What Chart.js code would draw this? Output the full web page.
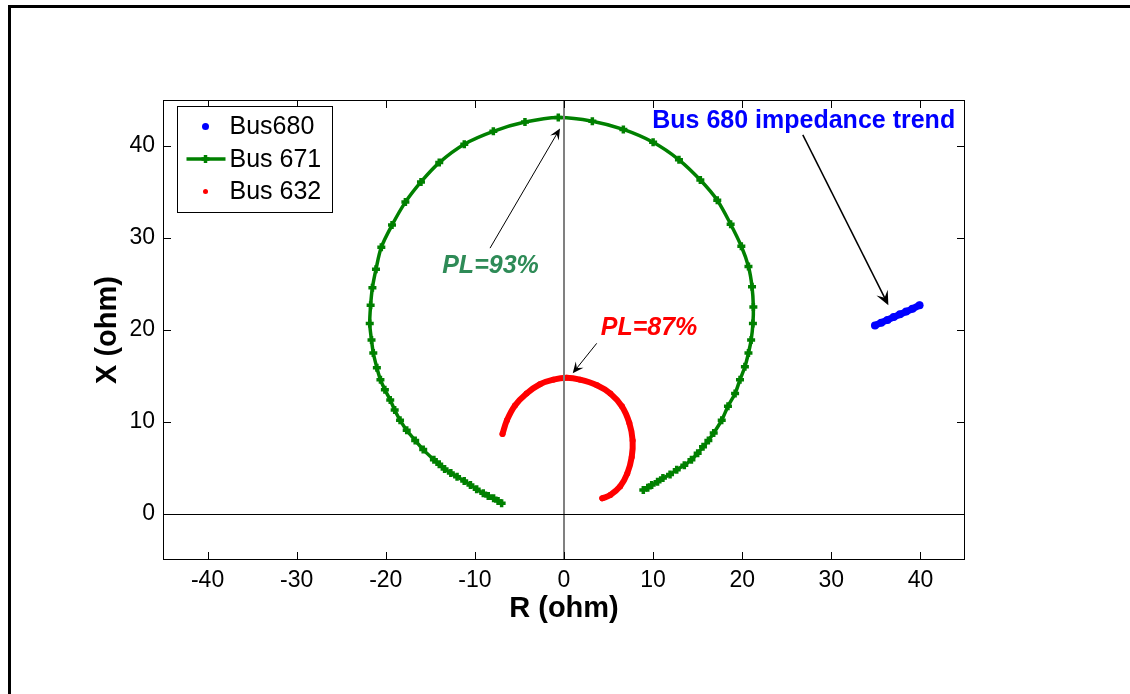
<!DOCTYPE html>
<html>
<head>
<meta charset="utf-8">
<script src="https://cdn.jsdelivr.net/npm/chart.js@4.4.1/dist/chart.umd.min.js"></script>
<style>
  html, body { margin: 0; padding: 0; background: #fff; }
  body { width: 1130px; height: 694px; overflow: hidden; position: relative; }
  #frame { position: absolute; left: 8px; top: 5px; width: 1140px; height: 700px;
           border-top: 3px solid #000; border-left: 3px solid #000; }
  #wrap { position: absolute; left: 0; top: 0; width: 1130px; height: 694px; }
</style>
</head>
<body>
<div id="frame"></div>
<div id="wrap"><canvas id="chart" width="1130" height="694"></canvas></div>
<script>
// Bus 680 - short trend
const bus680R = [34.9, 35.6, 36.3, 37.0, 37.7, 38.4, 39.1, 39.9];
const bus680X = [20.5, 20.8, 21.1, 21.4, 21.7, 22.0, 22.3, 22.7];

// Bus 671 - big arc, right end -> top -> left end (denser near the two ends)
const bus671R = [8.9, 9.4, 9.84, 10.5, 11.1, 11.9, 12.65, 13.5, 14.3, 15.0, 15.6, 16.2, 16.8, 17.7, 18.4, 19.2,
  19.75, 20.3, 20.7, 21.0, 21.2, 21.25, 21.1, 20.7, 19.9, 18.7, 17.2, 15.3, 12.9, 10.0, 6.66, 3.18,
  -0.64, -4.38, -7.93, -11.19, -14.0, -16.05, -17.8, -19.3, -20.5, -21.1, -21.5, -21.7, -21.8, -21.6,
  -21.4, -21.0, -20.6, -20.1, -19.5, -19.0, -18.4, -17.65, -16.7, -15.8, -14.6, -14.0, -13.4, -12.7,
  -12.0, -11.2, -10.5, -9.8, -9.06, -8.5, -7.9, -7.4, -7.0];
const bus671X = [2.6, 2.85, 3.15, 3.5, 3.9, 4.3, 4.8, 5.3, 5.9, 6.6, 7.3, 8.0, 8.8, 10.2, 11.7, 13.1,
  14.6, 16.0, 17.5, 18.9, 20.7, 22.5, 24.7, 26.9, 29.1, 31.5, 34.1, 36.3, 38.5, 40.4, 41.8, 42.7,
  43.1, 42.6, 41.6, 40.2, 38.2, 36.1, 33.9, 31.4, 29.0, 26.6, 24.6, 22.7, 20.7, 18.9,
  17.5, 15.9, 14.6, 13.5, 12.4, 11.3, 10.2, 9.1, 8.0, 7.0, 5.9, 5.4, 4.9, 4.45,
  4.05, 3.6, 3.15, 2.7, 2.25, 1.95, 1.7, 1.4, 1.16];

// Bus 632 - small arc, left end -> top -> right end
const bus632R = [-6.9, -6.4, -5.5, -4.2, -2.7, -1.2, 0.3, 1.8, 3.7, 5.2, 6.5, 7.33, 7.7, 7.6, 7.1, 6.3, 5.2, 4.3];
const bus632X = [8.7, 10.2, 11.8, 13.1, 14.1, 14.6, 14.8, 14.6, 14.0, 13.1, 11.7, 9.9, 8.0, 6.2, 4.4, 3.0, 2.07, 1.7];

const xTicks = [-40, -30, -20, -10, 0, 10, 20, 30, 40];
const yTicks = [0, 10, 20, 30, 40];

const FONT = "'Liberation Sans', Arial, sans-serif";

const pts = (rs, xs) => rs.map((r, i) => ({ x: r, y: xs[i] }));

// text + arrow annotations, in data units
const notes = [
  { text: 'Bus 680 impedance trend', color: '#0000ff', italic: false, at: [26.9, 41.96],
    from: [26.8, 41.2], to: [36.4, 22.7], head: 14, lw: 1.5 },
  { text: 'PL=93%', color: '#2e8b57', italic: true, at: [-8.25, 26.2],
    from: [-8.3, 28.9], to: [-0.45, 41.9], head: 11, lw: 1 },
  { text: 'PL=87%', color: '#ff0000', italic: true, at: [9.54, 19.5],
    from: [3.67, 18.55], to: [0.98, 15.3], head: 11, lw: 1 }
];

function seg(ctx, x1, y1, x2, y2) {
  ctx.beginPath();
  ctx.moveTo(x1, y1);
  ctx.lineTo(x2, y2);
  ctx.stroke();
}

const axesBox = {
  id: 'axesBox',
  afterDatasetsDraw(chart) {
    const { ctx, chartArea: a, scales: { x, y } } = chart;
    ctx.save();
    // zero lines
    ctx.strokeStyle = '#808080';
    ctx.lineWidth = 2;
    const x0 = Math.round(x.getPixelForValue(0));
    seg(ctx, x0, a.top, x0, a.bottom);
    ctx.strokeStyle = '#000';
    ctx.lineWidth = 1;
    const y0 = Math.round(y.getPixelForValue(0)) + 0.5;
    seg(ctx, a.left, y0, a.right, y0);
    // box
    ctx.strokeRect(Math.round(a.left) + 0.5, Math.round(a.top) + 0.5,
      Math.round(a.width) - 1, Math.round(a.height) - 1);
    // inward ticks on all four sides
    xTicks.forEach(v => {
      const px = Math.round(x.getPixelForValue(v)) + 0.5;
      seg(ctx, px, a.bottom, px, a.bottom - 8);
      seg(ctx, px, a.top, px, a.top + 8);
    });
    yTicks.forEach(v => {
      const py = Math.round(y.getPixelForValue(v)) + 0.5;
      seg(ctx, a.left, py, a.left + 8, py);
      seg(ctx, a.right, py, a.right - 8, py);
    });
    ctx.restore();
  }
};

const annotations = {
  id: 'annotations',
  afterDatasetsDraw(chart) {
    const { ctx, scales: { x, y } } = chart;
    ctx.save();
    notes.forEach(n => {
      const x1 = x.getPixelForValue(n.from[0]), y1 = y.getPixelForValue(n.from[1]);
      const x2 = x.getPixelForValue(n.to[0]), y2 = y.getPixelForValue(n.to[1]);
      const ang = Math.atan2(y2 - y1, x2 - x1);
      const L = n.head, W = n.head * 0.45;
      ctx.strokeStyle = '#000';
      ctx.fillStyle = '#000';
      ctx.lineWidth = n.lw;
      seg(ctx, x1, y1, x2 - Math.cos(ang) * L * 0.5, y2 - Math.sin(ang) * L * 0.5);
      // barbed head
      const bx = x2 - Math.cos(ang) * L, by = y2 - Math.sin(ang) * L;
      const nx = -Math.sin(ang), ny = Math.cos(ang);
      const mx = x2 - Math.cos(ang) * L * 0.6, my = y2 - Math.sin(ang) * L * 0.6;
      ctx.beginPath();
      ctx.moveTo(x2, y2);
      ctx.lineTo(bx + nx * W, by + ny * W);
      ctx.lineTo(mx, my);
      ctx.lineTo(bx - nx * W, by - ny * W);
      ctx.closePath();
      ctx.fill();

      ctx.font = (n.italic ? 'italic ' : '') + 'bold 25px ' + FONT;
      ctx.fillStyle = n.color;
      ctx.textAlign = 'center';
      ctx.textBaseline = 'alphabetic';
      ctx.fillText(n.text, x.getPixelForValue(n.at[0]), y.getPixelForValue(n.at[1]));
    });
    ctx.restore();
  }
};

const legendBox = {
  id: 'legendBox',
  afterDraw(chart) {
    const { ctx, chartArea: a } = chart;
    const bx = Math.round(a.left) + 14.5, by = Math.round(a.top) + 6.5;
    ctx.save();
    ctx.fillStyle = '#fff';
    ctx.fillRect(bx, by, 155, 106);
    ctx.strokeStyle = '#000';
    ctx.lineWidth = 1;
    ctx.strokeRect(bx, by, 155, 106);
    chart.data.datasets.forEach((ds, i) => {
      const cy = by + 20 + i * 32.5;
      const mx = bx + 28;
      ctx.strokeStyle = ds.borderColor;
      ctx.fillStyle = ds.borderColor;
      if (ds.legendLine) {
        ctx.lineWidth = 3.5;
        seg(ctx, bx + 9, cy, bx + 48, cy);
        seg(ctx, mx - 4, cy, mx + 4, cy);
        seg(ctx, mx, cy - 4, mx, cy + 4);
      } else {
        ctx.beginPath();
        ctx.arc(mx, cy, ds.legendDot, 0, Math.PI * 2);
        ctx.fill();
      }
      ctx.fillStyle = '#000';
      ctx.font = '25px ' + FONT;
      ctx.textAlign = 'left';
      ctx.textBaseline = 'middle';
      ctx.fillText(ds.label, bx + 52, cy + 1);
    });
    ctx.restore();
  }
};

new Chart(document.getElementById('chart'), {
  type: 'scatter',
  data: {
    datasets: [
      {
        label: 'Bus680',
        data: pts(bus680R, bus680X),
        showLine: true,
        borderColor: '#0000ff',
        backgroundColor: '#0000ff',
        borderWidth: 7,
        borderCapStyle: 'round',
        pointRadius: 4,
        pointBorderWidth: 0,
        legendDot: 3.5
      },
      {
        label: 'Bus 671',
        data: pts(bus671R, bus671X),
        showLine: true,
        tension: 0.3,
        borderColor: '#008000',
        backgroundColor: '#008000',
        borderWidth: 3.5,
        pointStyle: 'cross',
        pointRadius: 4,
        pointBorderWidth: 3.5,
        legendLine: true
      },
      {
        label: 'Bus 632',
        data: pts(bus632R, bus632X),
        showLine: true,
        tension: 0.35,
        borderColor: '#ff0000',
        backgroundColor: '#ff0000',
        borderWidth: 6,
        borderCapStyle: 'round',
        borderJoinStyle: 'round',
        pointRadius: 3,
        pointBorderWidth: 0,
        legendDot: 2.5
      }
    ]
  },
  options: {
    responsive: false,
    animation: false,
    layout: { padding: { left: 80, top: 100, right: 165, bottom: 54 } },
    plugins: { legend: { display: false }, tooltip: { enabled: false } },
    scales: {
      x: {
        type: 'linear',
        min: -45,
        max: 45,
        afterBuildTicks: s => { s.ticks = xTicks.map(v => ({ value: v })); },
        afterFit: s => { s.height = 80; },
        grid: { display: false, drawTicks: false },
        border: { display: false },
        ticks: { color: '#000', padding: 7, font: { family: FONT, size: 23 } },
        title: {
          display: true, text: 'R (ohm)', color: '#000',
          padding: { top: 0, bottom: 14 },
          font: { family: FONT, size: 29, weight: 'bold' }
        }
      },
      y: {
        type: 'linear',
        min: -5,
        max: 45,
        afterBuildTicks: s => { s.ticks = yTicks.map(v => ({ value: v })); },
        afterFit: s => { s.width = 83; },
        grid: { display: false, drawTicks: false },
        border: { display: false },
        ticks: { color: '#000', padding: 8, font: { family: FONT, size: 23 } },
        title: {
          display: true, text: 'X (ohm)', color: '#000',
          padding: { top: 11, bottom: 0 },
          font: { family: FONT, size: 29, weight: 'bold' }
        }
      }
    }
  },
  plugins: [axesBox, annotations, legendBox]
});
</script>
</body>
</html>
